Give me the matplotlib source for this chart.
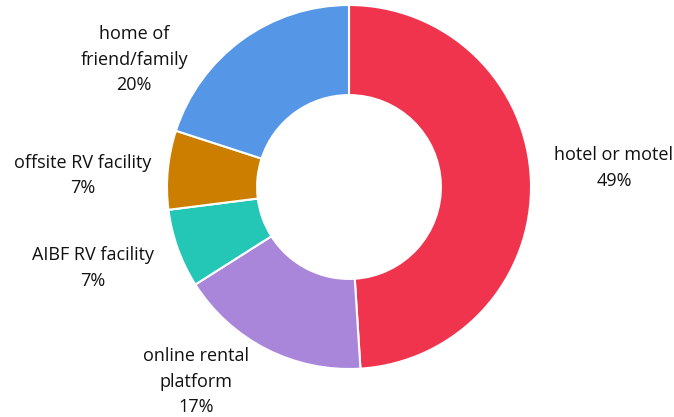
import matplotlib
matplotlib.use("Agg")
import matplotlib.pyplot as plt

# data
labels = ["hotel or motel", "online rental\nplatform", "AIBF RV facility",
          "offsite RV facility", "home of\nfriend/family"]
shares = [49, 17, 7, 7, 20]
colors = ["#F0344E", "#AA86DA", "#24C6B5", "#CC7E00", "#5596E6"]

# label anchors (layout, in units of the outer radius)
label_pos = [(1.456, 0.105), (-0.841, -1.070), (-1.407, -0.445),
             (-1.462, 0.063), (-1.181, 0.700)]

W, H = 674, 417
cx, cy, R = 349, 187, 182

fig = plt.figure(figsize=(W / 100, H / 100), dpi=100)
ax = fig.add_axes([0, 0, 1, 1])
ax.pie(shares, colors=colors, startangle=90, counterclock=False, radius=1,
       wedgeprops=dict(width=0.495, edgecolor="white", linewidth=1.5))
ax.set_aspect("auto")
ax.set_xlim(-cx / R, (W - cx) / R)
ax.set_ylim((cy - H) / R, cy / R)
ax.axis("off")

for lab, val, (x, y) in zip(labels, shares, label_pos):
    ax.text(x, y, f"{lab}\n{val}%", ha="center", va="center", fontsize=13,
            family="Open Sans", color="#111111", linespacing=1.55)

fig.savefig("out.png", dpi=100)
